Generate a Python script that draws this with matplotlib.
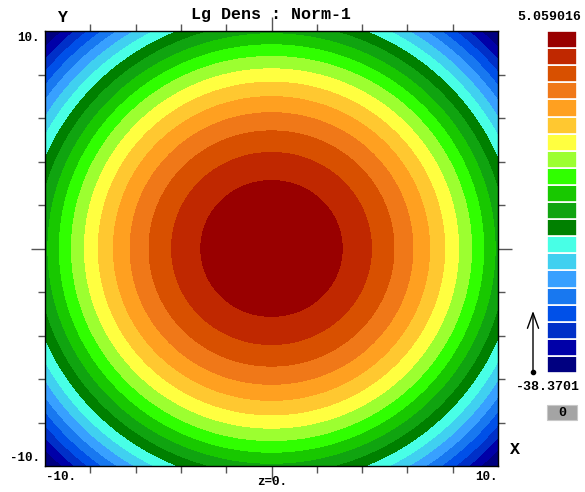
import numpy as np
import matplotlib
matplotlib.use("Agg")
import matplotlib.pyplot as plt
from matplotlib.patches import FancyArrowPatch, Rectangle

# ---- data ----
title = "Lg Dens : Norm-1"
v_max = 5.059016          # value at centre (top of scale)
v_min = -38.3701          # bottom of scale
ring_r2_step = 9.75       # spacing of the contour rings in r^2
x_range = [-10.0, 10.0]
y_range = [-10.0, 10.0]
n_levels = 20
colors = ["#000080", "#0000A8", "#0030C8", "#0050E8", "#1878F0",
          "#38A0FF", "#40D0F0", "#48FFE6", "#008000", "#10A410",
          "#18C800", "#30FF00", "#9CFF30", "#FFFF40", "#FFC830",
          "#FFA020", "#F07818", "#D85000", "#C02800", "#990000"]
x_tick_labels = ["-10.", "10."]
y_tick_labels = ["-10.", "10."]
slice_label = "z=0."
lower_box_label = "0"

# field: log-density of a Gaussian (parabolic in log r)
x = np.linspace(x_range[0], x_range[1], 501)
y = np.linspace(y_range[0], y_range[1], 501)
X, Y = np.meshgrid(x, y)
level_step = (v_max - v_min) / n_levels
F = v_max - level_step * (X ** 2 + Y ** 2) / ring_r2_step
F = np.maximum(F, v_min)
levels = np.linspace(v_min, v_max, n_levels + 1)

FAM = "Liberation Mono"
font_s = dict(family=FAM, weight="bold", size=9)
font_c = dict(family=FAM, weight="bold", size=9.5)
font_t = dict(family=FAM, weight="bold", size=12)

fig = plt.figure(figsize=(5.85, 4.92), dpi=100)
W, H = 585, 492

def fx(px):
    return px / W

def fy(py):
    return 1 - py / H

ax = fig.add_axes([fx(45), fy(466), fx(498) - fx(45), fy(31) - fy(466)])
ax.contourf(X, Y, F, levels=levels, colors=colors, antialiased=False)
ax.set_xlim(*x_range)
ax.set_ylim(*y_range)
ticks = np.arange(-8, 9, 2)
ax.set_xticks(ticks)
ax.set_yticks(ticks)
ax.tick_params(which="both", direction="out", length=5, width=1, color="#555555",
               top=True, right=True, labelbottom=False, labelleft=False)
for s in ax.spines.values():
    s.set_linewidth(1)
    s.set_color("black")
for t in (ax.xaxis.get_major_ticks()[4], ax.yaxis.get_major_ticks()[4]):
    t.tick1line.set_markersize(10)
    t.tick2line.set_markersize(10)

# labels
fig.text(fx(271), fy(14), title, ha="center", va="center", **font_t)
fig.text(fx(62), fy(17), "Y", ha="center", va="center", **font_t)
fig.text(fx(515), fy(450), "X", ha="center", va="center", **font_t)
fig.text(fx(272), fy(482), slice_label, ha="center", va="center", **font_s)
fig.text(fx(46), fy(477), x_tick_labels[0], ha="left", va="center", **font_s)
fig.text(fx(498), fy(477), x_tick_labels[1], ha="right", va="center", **font_s)
fig.text(fx(40), fy(38), y_tick_labels[1], ha="right", va="center", **font_s)
fig.text(fx(40), fy(458), y_tick_labels[0], ha="right", va="center", **font_s)

# colour scale
cax = fig.add_axes([fx(547), fy(373), fx(577) - fx(547), fy(31) - fy(373)])
cax.bar(np.zeros(n_levels), np.diff(levels), bottom=levels[:-1], width=1.0,
        color=colors, edgecolor="white", linewidth=1.2, align="center")
cax.set_xlim(-0.5, 0.5)
cax.set_ylim(v_min, v_max)
cax.axis("off")
fig.text(fx(549), fy(17), f"{v_max:.6f}", ha="center", va="center", **font_c)
fig.text(fx(548), fy(387), f"{v_min:.4f}", ha="center", va="center", **font_c)

# gray box
fig.add_artist(Rectangle((fx(547), fy(420)), fx(577) - fx(547), fy(405) - fy(420),
                         transform=fig.transFigure, facecolor="#A4A4A4", edgecolor="#C8C8C8", lw=0.8))
fig.text(fx(562), fy(412.5), lower_box_label, ha="center", va="center", **font_c)

# arrow
arr = FancyArrowPatch((fx(533), fy(372)), (fx(533), fy(311)), transform=fig.transFigure,
                      arrowstyle="->,head_length=11,head_width=4", color="black", lw=1,
                      shrinkA=0, shrinkB=0)
fig.add_artist(arr)
fig.add_artist(plt.Line2D([fx(533)], [fy(372)], marker="o", markersize=3, color="black",
                          transform=fig.transFigure))

fig.savefig("out.png", dpi=100)
